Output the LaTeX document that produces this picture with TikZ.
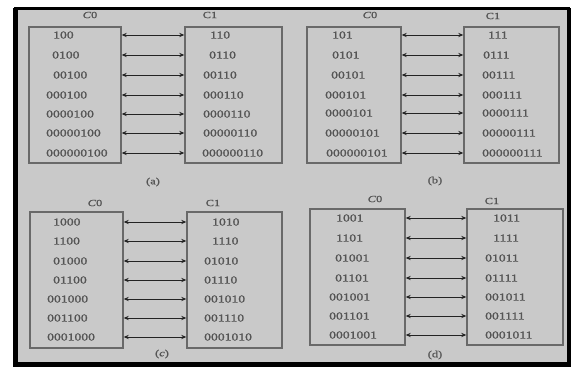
\documentclass[tikz,border=0pt]{standalone}
\usepackage{fontspec}
\setmainfont{Liberation Serif}
\newfontfamily\digfont[FakeStretch=1.3,FakeBold=1.2]{Liberation Serif}
\usetikzlibrary{arrows.meta}
\definecolor{bggray}{RGB}{201,201,201}
\definecolor{boxgray}{RGB}{105,105,105}
\definecolor{txtgray}{RGB}{85,85,85}
\definecolor{arrgray}{RGB}{35,35,35}
\tikzset{
  colbox/.style={draw=boxgray, line width=1.4pt, rectangle, inner sep=0pt},
  bits/.style={anchor=west, inner sep=0pt, text=txtgray, font=\digfont\fontsize{10.5}{11}\selectfont},
  hdr/.style={inner sep=0pt, text=txtgray, font=\digfont\fontsize{9.5}{10}\selectfont},
  link/.style={draw=arrgray, line width=0.9pt, {Stealth[length=5pt,width=4.2pt]}-{Stealth[length=5pt,width=4.2pt]}},
}
\newcommand{\mkbox}[5]{\node[colbox, minimum width=#4-#2, minimum height=#5-#3] (#1) at ({(#2+#4)/2},{(#3+#5)/2}) {};}
\begin{document}
\begin{tikzpicture}[x=1pt,y=-1pt]
\useasboundingbox (0,0) rectangle (571,367);
\fill[white] (0,0) rectangle (571,367);
\fill[bggray] (15,9) rectangle (569,364);
\draw[black, line width=3pt] (14,8.5) -- (569.5,8.5);
\draw[black, line width=5pt] (15,8) -- (15,364.5) -- (569,364.5) -- (569,8);
\coordinate (frame) at (292,187);

% panel (a)
\mkbox{a0}{29}{27}{121}{163}
\mkbox{a1}{185}{27}{282}{163}
\node[hdr] (a0h) at (90,15) {\textit{C}0};
\node[hdr] (a1h) at (210,15) {C1};
\foreach \l/\r/\y/\xl/\xr [count=\i] in {100/110/35/53/210, 0100/0110/55/52/209, 00100/00110/75/53/203, 000100/000110/95/46/203, 0000100/0000110/114/46/203, 00000100/00000110/133/46/203, 000000100/000000110/153/46/202}{
  \node[bits] (al\i) at (\xl,\y) {\l};
  \node[bits] (ar\i) at (\xr,\y) {\r};
  \draw[link] (a0.east |- al\i) -- (a1.west |- ar\i);
}
\node[hdr] (acap) at (153,182) {(a)};

% panel (b)
\mkbox{b0}{307}{27}{401}{163}
\mkbox{b1}{464}{27}{559}{163}
\node[hdr] (b0h) at (370,15) {\textit{C}0};
\node[hdr] (b1h) at (493,16) {C1};
\foreach \l/\r/\y/\xl/\xr [count=\i] in {101/111/35/332/488, 0101/0111/55/332/483, 00101/00111/75/331/482, 000101/000111/95/325/482, 0000101/0000111/113/325/482, 00000101/00000111/133/325/482, 000000101/000000111/153/326/482}{
  \node[bits] (bl\i) at (\xl,\y) {\l};
  \node[bits] (br\i) at (\xr,\y) {\r};
  \draw[link] (b0.east |- bl\i) -- (b1.west |- br\i);
}
\node[hdr] (bcap) at (435,181) {(b)};

% panel (c)
\mkbox{c0}{30}{212}{123}{348}
\mkbox{c1}{187}{212}{282}{348}
\node[hdr] (c0h) at (95,203) {\textit{C}0};
\node[hdr] (c1h) at (213,203) {C1};
\foreach \l/\r/\y/\xl/\xr [count=\i] in {1000/1010/222/53/212, 1100/1110/241/53/212, 01000/01010/261/53/204, 01100/01110/280/53/204, 001000/001010/299/47/204, 001100/001110/318/47/204, 0001000/0001010/337/47/204}{
  \node[bits] (cl\i) at (\xl,\y) {\l};
  \node[bits] (cr\i) at (\xr,\y) {\r};
  \draw[link] (c0.east |- cl\i) -- (c1.west |- cr\i);
}
\node[hdr] (ccap) at (162,354) {(\textit{c})};

% panel (d)
\mkbox{d0}{310}{209}{405}{345}
\mkbox{d1}{467}{209}{563}{345}
\node[hdr] (d0h) at (375,199) {\textit{C}0};
\node[hdr] (d1h) at (492,201) {C1};
\foreach \l/\r/\y/\xl/\xr [count=\i] in {1001/1011/218/336/493, 1101/1111/238/336/493, 01001/01011/258/335/485, 01101/01111/278/335/485, 001001/001011/297/329/485, 001101/001111/316/329/485, 0001001/0001011/335/329/485}{
  \node[bits] (dl\i) at (\xl,\y) {\l};
  \node[bits] (dr\i) at (\xr,\y) {\r};
  \draw[link] (d0.east |- dl\i) -- (d1.west |- dr\i);
}
\node[hdr] (dcap) at (435,355) {(d)};
\end{tikzpicture}
\end{document}
